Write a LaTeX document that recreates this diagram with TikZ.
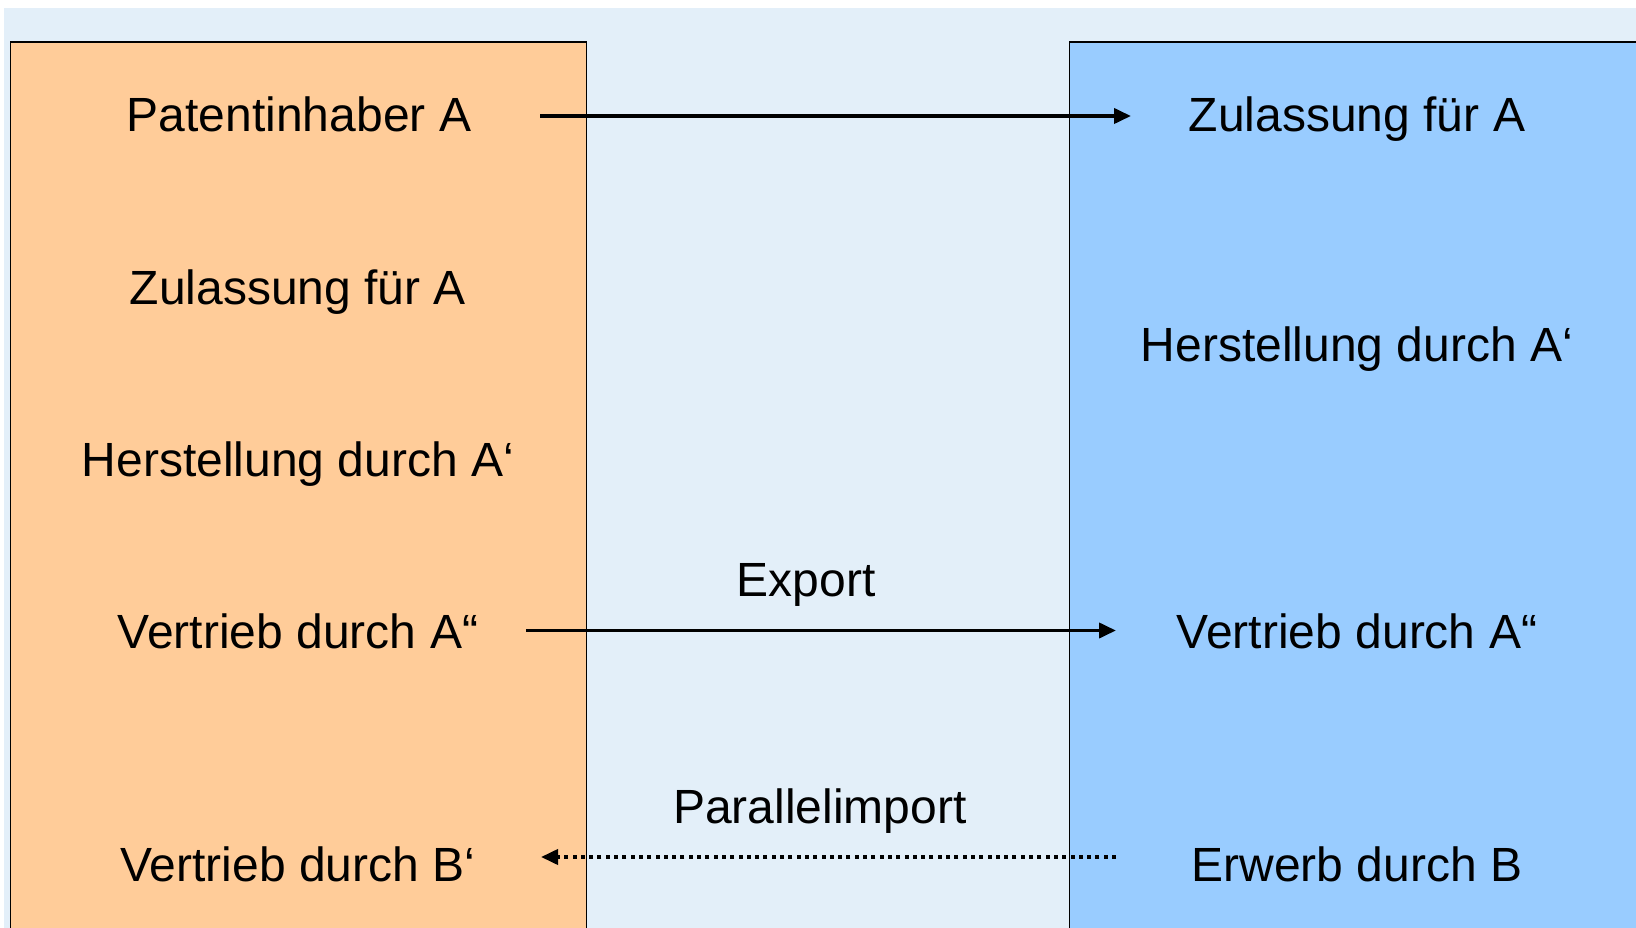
\documentclass[tikz,border=0pt]{standalone}
\usepackage{fontspec}
\setmainfont{Liberation Sans}
\usetikzlibrary{arrows.meta}
\definecolor{bgblue}{HTML}{E3EFF9}
\definecolor{orangebox}{HTML}{FFCC99}
\definecolor{bluebox}{HTML}{99CCFF}
\tikzset{
  lbl/.style={font=\fontsize{48}{56}\selectfont, inner sep=0pt, anchor=base},
  panel/.style={draw=black, line width=1.6pt},
  conn/.style={line width=3.8pt, -{Triangle[length=17pt,width=15pt]}},
  dotconn/.style={line width=3.8pt, dash pattern=on 4pt off 4.3pt, -{Triangle[length=17pt,width=15pt]}}
}
\begin{document}
\begin{tikzpicture}[x=1pt,y=-1pt]
\useasboundingbox (0,0) rectangle (1636,928);
\fill[white] (0,0) rectangle (1636,928);
\fill[bgblue] (4,8) rectangle (1640,932);
\draw[panel, fill=orangebox] (10.5,42) rectangle (586.5,940);
\draw[panel, fill=bluebox] (1069.5,42) rectangle (1650,940);

\node[lbl] (pa) at (299,132) {Patentinhaber A};
\node[lbl] (zl) at (298,304) {Zulassung für A};
\node[lbl] (hl) at (298,476) {Herstellung durch A‘};
\node[lbl] (vl) at (298,648.5) {Vertrieb durch A“};
\node[lbl] (bl) at (298,881) {Vertrieb durch B‘};

\node[lbl] (zr) at (1357,132) {Zulassung für A};
\node[lbl] (hr) at (1357,361.5) {Herstellung durch A‘};
\node[lbl] (vr) at (1357,648.5) {Vertrieb durch A“};
\node[lbl] (er) at (1357,881) {Erwerb durch B};

\node[lbl] (ex) at (806,596) {Export};
\node[lbl] (pi) at (820,823.5) {Parallelimport};

\coordinate (a1s) at (540,116);
\coordinate (a1e) at (1131,116);
\coordinate (a2s) at (526,630.5);
\coordinate (a2e) at (1116,630.5);
\coordinate (a3s) at (1116,857);
\coordinate (a3e) at (541,857);
\draw[conn] (a1s) -- (a1e);
\draw[conn] (a2s) -- (a2e);
\draw[dotconn] (a3s) -- (a3e);
\end{tikzpicture}
\end{document}
